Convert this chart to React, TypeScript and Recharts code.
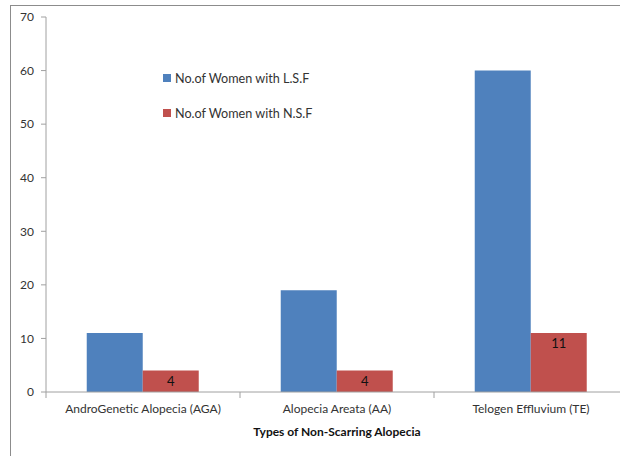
import React from 'react';
import { BarChart, Bar, XAxis, YAxis, Legend, LabelList } from 'recharts';

const categories = ['AndroGenetic Alopecia (AGA)', 'Alopecia Areata (AA)', 'Telogen Effluvium (TE)'];
const lsfValues = [11, 19, 60];
const nsfValues = [4, 4, 11];
const yTicks = [0, 10, 20, 30, 40, 50, 60, 70];

const LSF = 'No.of Women with L.S.F';
const NSF = 'No.of Women with N.S.F';

const data = categories.map((name, i) => ({ name, [LSF]: lsfValues[i], [NSF]: nsfValues[i] }));

const FONT = 'Lato, "Open Sans", sans-serif';

// Excel style: tick marks sit between categories, labels at the centre
const XTick = (props: any) => {
    const { x, y, payload, width, visibleTicksCount } = props;
    const half = width && visibleTicksCount ? width / visibleTicksCount / 2 : (payload.offset ?? 97);
    return (
        <g>
            <line x1={x - half} x2={x - half} y1={y - 5} y2={y + 1} stroke="#A0A0A0" />
            <text x={x} y={y} dy={16} textAnchor="middle" fill="#333" fontSize={12} fontFamily={FONT}>
                {payload.value}
            </text>
        </g>
    );
};

const LegendBox = (props: any) => {
    const { payload } = props;
    return (
        <div style={{ fontFamily: FONT, fontSize: 12.6, color: '#333' }}>
            {payload.map((entry: any) => (
                <div key={entry.value} style={{ display: 'flex', alignItems: 'center', height: 20, marginBottom: 15 }}>
                    <span style={{ width: 8, height: 8, background: entry.color, display: 'inline-block', marginRight: 4 }} />
                    <span>{entry.value}</span>
                </div>
            ))}
        </div>
    );
};

export default function App() {
    return (
        <div style={{ position: 'fixed', left: 0, top: 0, width: 620, height: 456, overflow: 'hidden', background: '#fff' }}>
            <div style={{ position: 'absolute', left: 10, top: 5, width: 700, height: 520, border: '1px solid #8C8C8C' }} />
            <div style={{ position: 'absolute', left: 0, top: 0 }}>
                <BarChart
                    width={660}
                    height={456}
                    data={data}
                    margin={{ top: 17, right: 32, left: 10, bottom: 0 }}
                    barCategoryGap="21%"
                    barGap={0}
                >
                    <XAxis
                        dataKey="name"
                        height={64}
                        tickLine={false}
                        tickSize={5}
                        tickMargin={0}
                        axisLine={{ stroke: '#A0A0A0' }}
                        tick={<XTick />}
                        interval={0}
                        label={{ value: 'Types of Non-Scarring Alopecia', position: 'insideBottom', offset: 20, fill: '#111', fontSize: 12, fontWeight: 'bold', fontFamily: FONT }}
                    />
                    <YAxis
                        width={36}
                        domain={[0, 70]}
                        ticks={yTicks}
                        interval={0}
                        tickSize={5}
                        tickMargin={7}
                        axisLine={{ stroke: '#A0A0A0' }}
                        tickLine={{ stroke: '#A0A0A0' }}
                        tick={{ fill: '#333', fontSize: 12, fontFamily: FONT }}
                    />
                    <Legend
                        layout="horizontal"
                        verticalAlign="middle"
                        align="center"
                        wrapperStyle={{ left: 163, top: 68, width: 240 }}
                        content={<LegendBox />}
                    />
                    <Bar dataKey={LSF} fill="#4F81BD" isAnimationActive={false} />
                    <Bar dataKey={NSF} fill="#C0504D" isAnimationActive={false}>
                        <LabelList dataKey={NSF} position="insideTop" offset={6} fill="#111" fontSize={13} fontFamily={FONT} />
                    </Bar>
                </BarChart>
            </div>
        </div>
    );
}
